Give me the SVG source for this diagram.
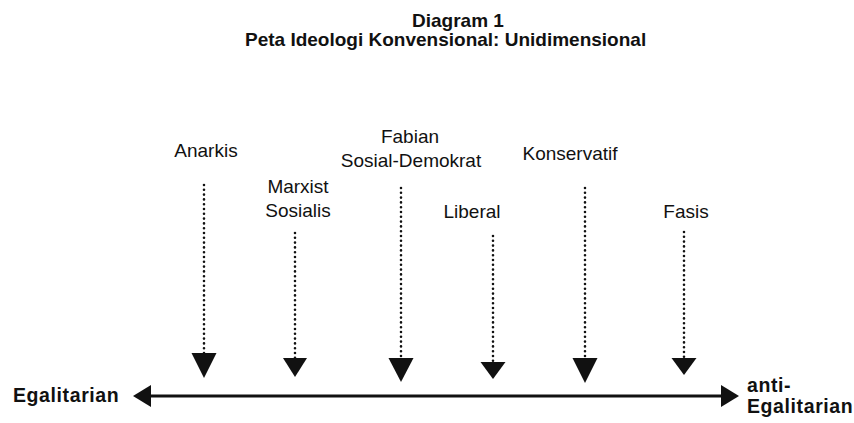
<svg xmlns="http://www.w3.org/2000/svg" width="854" height="423" viewBox="0 0 854 423">
<style>
text{font-family:"Liberation Sans",Arial,sans-serif;fill:#111;}
.t{font-size:19px;font-weight:bold;}
.l{font-size:19px;text-anchor:middle;}
.e{font-size:19.5px;font-weight:bold;letter-spacing:0.6px;}
.dot{stroke:#111;stroke-width:2.6;stroke-linecap:round;stroke-dasharray:0 4.8;fill:none;}
.head{fill:#111;}
.axis{stroke:#111;stroke-width:3;fill:none;}
</style>
<rect width="854" height="423" fill="#fff"/>
<g id="title">
<text class="t" x="412" y="27">Diagram 1</text>
<text class="t" x="245" y="46">Peta Ideologi Konvensional: Unidimensional</text>
</g>
<g id="anarkis"><text class="l" x="206" y="157">Anarkis</text></g>
<g id="marxist"><text class="l" x="298" y="193">Marxist</text><text class="l" x="298" y="217">Sosialis</text></g>
<g id="fabian"><text class="l" x="410" y="143">Fabian</text><text class="l" x="411" y="167">Sosial-Demokrat</text></g>
<g id="liberal"><text class="l" x="472" y="218">Liberal</text></g>
<g id="konservatif"><text class="l" x="570" y="160">Konservatif</text></g>
<g id="fasis"><text class="l" x="686" y="218">Fasis</text></g>
<g id="egalitarian"><text class="e" x="13" y="402">Egalitarian</text></g>
<g id="anti-egalitarian"><text class="e" x="747" y="392">anti-</text><text class="e" x="747" y="413">Egalitarian</text></g>
<g id="connectors">
<line class="dot" x1="204" y1="185" x2="204" y2="355"/>
<polygon class="head" points="191.5,353 216.5,353 204,378"/>
<line class="dot" x1="295" y1="233" x2="295" y2="358"/>
<polygon class="head" points="283,358 307,358 295,377"/>
<line class="dot" x1="401" y1="188" x2="401" y2="358"/>
<polygon class="head" points="388.5,358 413.5,358 401,382"/>
<line class="dot" x1="493" y1="236" x2="493" y2="362"/>
<polygon class="head" points="480.5,362 505.5,362 493,379"/>
<line class="dot" x1="585" y1="188" x2="585" y2="358"/>
<polygon class="head" points="572.5,358 597.5,358 585,383"/>
<line class="dot" x1="684" y1="232" x2="684" y2="358"/>
<polygon class="head" points="671.5,358 696.5,358 684,375"/>
<line class="axis" x1="148" y1="396" x2="725" y2="396"/>
<polygon class="head" points="133,396 151,385 151,407"/>
<polygon class="head" points="739,396 721,385 721,407"/>
</g>
</svg>
